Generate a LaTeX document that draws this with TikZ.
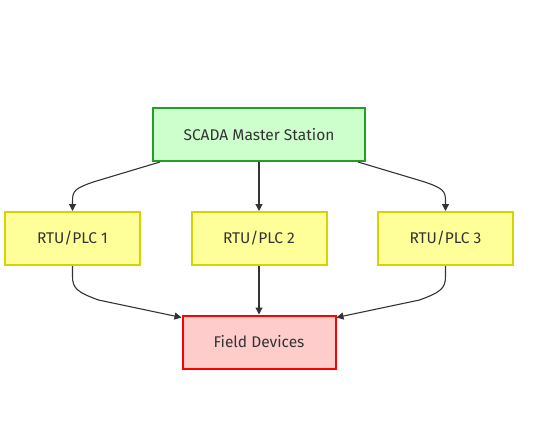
\documentclass[tikz,border=0pt]{standalone}
\usepackage{fontspec}
\setmainfont{Fira Sans}
\usetikzlibrary{arrows.meta,calc}
\definecolor{txt}{HTML}{333333}
\definecolor{edge}{HTML}{333333}
\begin{document}
\begin{tikzpicture}[x=1pt,y=-1pt,
  box/.style={draw,line width=2pt,minimum height=53pt,inner sep=0pt,font=\fontsize{15.5}{18}\selectfont,text=txt},
  master/.style={box,fill={rgb,255:red,204;green,255;blue,204},draw={rgb,255:red,34;green,160;blue,34},minimum width=212pt},
  rtu/.style={box,fill={rgb,255:red,255;green,255;blue,153},draw={rgb,255:red,212;green,212;blue,0},minimum width=135pt},
  field/.style={box,fill={rgb,255:red,255;green,204;blue,204},draw={rgb,255:red,255;green,0;blue,0},minimum width=153pt},
  conn/.style={draw=edge,line width=1.1pt,-{Triangle[length=7pt,width=7pt]}}]
\useasboundingbox (0,0) rectangle (546,421);
\node[master] (m) at (259,134.5) {SCADA Master Station};
\node[rtu] (r1) at (72.5,238.5) {RTU/PLC 1};
\node[rtu] (r2) at (259,238.5) {RTU/PLC 2};
\node[rtu] (r3) at (445.5,238.5) {RTU/PLC 3};
\node[field] (f) at (259,342) {Field Devices};
\draw[conn] ($(m.south west)+(8,0)$) -- ($(r1.north)+(24,-30)$) .. controls ($(r1.north)+(2,-23)$) and ($(r1.north)+(0,-20)$) .. ($(r1.north)+(0,-10)$) -- (r1.north);
\draw[conn] ($(m.south east)+(-8,0)$) -- ($(r3.north)+(-24,-30)$) .. controls ($(r3.north)+(-2,-23)$) and ($(r3.north)+(0,-20)$) .. ($(r3.north)+(0,-10)$) -- (r3.north);
\draw[conn] (m.south) -- (r2.north);
\draw[conn] (r1.south) -- ($(r1.south)+(0,10)$) .. controls ($(r1.south)+(0,22)$) and ($(r1.south)+(4,26)$) .. ($(r1.south)+(26,34)$) -- ($(f.north west)+(0,3)$);
\draw[conn] (r3.south) -- ($(r3.south)+(0,10)$) .. controls ($(r3.south)+(0,22)$) and ($(r3.south)+(-4,26)$) .. ($(r3.south)+(-26,34)$) -- ($(f.north east)+(0,3)$);
\draw[conn] (r2.south) -- (f.north);
\end{tikzpicture}
\end{document}
